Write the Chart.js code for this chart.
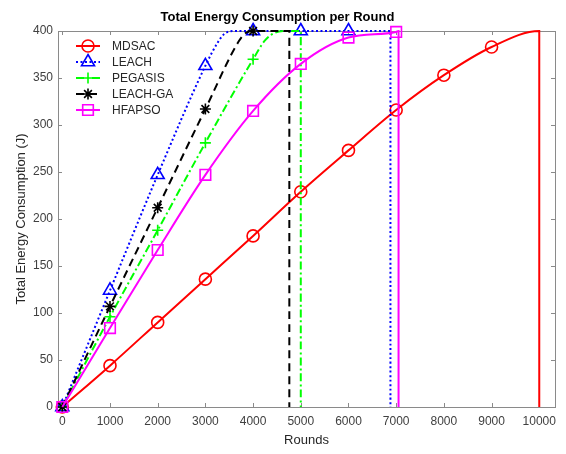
<!DOCTYPE html>
<html>
<head>
<meta charset="utf-8">
<title>Total Energy Consumption per Round</title>
<script src="https://cdn.jsdelivr.net/npm/chart.js@4.4.1/dist/chart.umd.min.js"></script>
<style>
  html, body { margin: 0; padding: 0; background: #fff; }
  #wrap { width: 566px; height: 454px; }
</style>
</head>
<body>
<div id="wrap"><canvas id="energy" width="566" height="454"></canvas></div>
<script>
// rounds / energy (J) per protocol
const mdsacX = [0, 1000, 2000, 3000, 4000, 5000, 6000, 7000, 8000, 9000, 10000, 10000];
const mdsacY = [0, 44, 90, 136, 182, 229, 273, 316, 353, 383, 400, 0];
const mdsacMarks = [0, 1000, 2000, 3000, 4000, 5000, 6000, 7000, 8000, 9000];

const leachX = [0, 1000, 2000, 3000, 3250, 3400, 3600, 4000, 5000, 6000, 6880, 6880];
const leachY = [0, 124, 247, 363, 387, 397, 400, 400, 400, 400, 400, 0];
const leachMarks = [0, 1000, 2000, 3000, 4000, 5000, 6000];

const pegasisX = [0, 1000, 2000, 3000, 4000, 4250, 4450, 4650, 5000, 5000];
const pegasisY = [0, 96, 188, 281, 370, 390, 398, 400, 400, 0];
const pegasisMarks = [0, 1000, 2000, 3000, 4000];

const leachGaX = [0, 1000, 2000, 3000, 3700, 3850, 4000, 4760, 4760];
const leachGaY = [0, 107, 212, 317, 389, 398, 400, 400, 0];
const leachGaMarks = [0, 1000, 2000, 3000, 4000];

const hfapsoX = [0, 1000, 2000, 3000, 4000, 5000, 6000, 7000, 7050, 7050];
const hfapsoY = [0, 84, 167, 247, 315, 365, 393, 399, 400, 0];
const hfapsoMarks = [0, 1000, 2000, 3000, 4000, 5000, 6000, 7000];

const xTicks = [0, 1000, 2000, 3000, 4000, 5000, 6000, 7000, 8000, 9000, 10000];
const yTicks = [0, 50, 100, 150, 200, 250, 300, 350, 400];

Chart.defaults.font.family = '"Liberation Sans", Arial, sans-serif';

const makeSeries = (label, xs, ys, marks, color, dash, style, radius, order) => ({
    label: label,
    data: xs.map((x, i) => ({ x: x, y: ys[i] })),
    borderColor: color,
    borderWidth: 2,
    borderDash: dash,
    borderCapStyle: 'butt',
    cubicInterpolationMode: 'monotone',
    pointStyle: style,
    pointRadius: ctx => (marks.includes(xs[ctx.dataIndex]) && ys[ctx.dataIndex] !== 0 || ctx.dataIndex === 0) ? radius : 0,
    pointBorderColor: color,
    pointBackgroundColor: 'rgba(0,0,0,0)',
    pointBorderWidth: 1.6,
    legendRadius: radius,
    showLine: true,
    clip: false,
    order: order
});

// box around the plot with inward tick marks on all four sides
const frame = {
    id: 'frame',
    beforeDatasetsDraw(chart) {
        const { ctx, chartArea: a, scales: { x, y } } = chart;
        ctx.save();
        ctx.strokeStyle = '#8a8a8a';
        ctx.lineWidth = 1;
        ctx.strokeRect(Math.round(a.left) + 0.5, Math.round(a.top) + 0.5,
            Math.round(a.right - a.left), Math.round(a.bottom - a.top));
        ctx.beginPath();
        x.ticks.forEach(t => {
            const px = Math.round(x.getPixelForValue(t.value)) + 0.5;
            ctx.moveTo(px, a.bottom); ctx.lineTo(px, a.bottom - 4);
            ctx.moveTo(px, a.top); ctx.lineTo(px, a.top + 4);
        });
        y.ticks.forEach(t => {
            const py = Math.round(y.getPixelForValue(t.value)) + 0.5;
            ctx.moveTo(a.left, py); ctx.lineTo(a.left + 4, py);
            ctx.moveTo(a.right, py); ctx.lineTo(a.right - 4, py);
        });
        ctx.stroke();
        ctx.restore();
    }
};

// line + marker legend in the upper left corner
const legendBox = {
    id: 'legendBox',
    afterDatasetsDraw(chart) {
        const { ctx, chartArea: a } = chart;
        ctx.save();
        chart.data.datasets.forEach((ds, i) => {
            const yy = a.top + 15 + i * 16;
            const x0 = a.left + 18;
            ctx.strokeStyle = ds.borderColor;
            ctx.lineWidth = ds.borderWidth;
            ctx.setLineDash(ds.borderDash || []);
            ctx.beginPath();
            ctx.moveTo(x0, yy);
            ctx.lineTo(x0 + 24, yy);
            ctx.stroke();
            ctx.setLineDash([]);
            ctx.fillStyle = 'rgba(0,0,0,0)';
            ctx.lineWidth = ds.pointBorderWidth;
            Chart.helpers.drawPoint(ctx, {
                pointStyle: ds.pointStyle,
                radius: ds.legendRadius,
                borderWidth: ds.pointBorderWidth,
                rotation: 0
            }, x0 + 12, yy);
            ctx.fillStyle = '#262626';
            ctx.font = '12px "Liberation Sans", Arial, sans-serif';
            ctx.textBaseline = 'middle';
            ctx.fillText(ds.label, x0 + 36, yy + 0.5);
        });
        ctx.restore();
    }
};

const datasets = [
    makeSeries('MDSAC', mdsacX, mdsacY, mdsacMarks, '#ff0000', [], 'circle', 6, 5),
    makeSeries('LEACH', leachX, leachY, leachMarks, '#0000ff', [2, 2.5], 'triangle', 7.5, 4),
    makeSeries('PEGASIS', pegasisX, pegasisY, pegasisMarks, '#00ff00', [8, 3, 2, 3], 'cross', 5.5, 3),
    makeSeries('LEACH-GA', leachGaX, leachGaY, leachGaMarks, '#000000', [8, 5], 'star', 5.5, 2),
    makeSeries('HFAPSO', hfapsoX, hfapsoY, hfapsoMarks, '#ff00ff', [], 'rect', 7.5, 1)
];

new Chart(document.getElementById('energy'), {
    type: 'scatter',
    data: { datasets: datasets },
    plugins: [frame, legendBox],
    options: {
        responsive: false,
        animation: false,
        devicePixelRatio: 1,
        events: [],
        layout: { padding: { left: 0, right: 11, top: 0, bottom: 0 } },
        plugins: {
            legend: { display: false },
            tooltip: { enabled: false },
            title: {
                display: true,
                text: 'Total Energy Consumption per Round',
                color: '#000',
                font: { size: 13, weight: 'bold' },
                padding: { top: 10, bottom: 5.4 }
            }
        },
        scales: {
            x: {
                type: 'linear',
                min: -90,
                max: 10330,
                afterBuildTicks: scale => { scale.ticks = xTicks.map(v => ({ value: v })); },
                afterFit: scale => { scale.height = 47; },
                grid: { display: false, drawTicks: false },
                border: { display: false },
                ticks: { color: '#404040', font: { size: 12 }, padding: 7, maxRotation: 0, autoSkip: false, callback: v => String(v) },
                title: { display: true, text: 'Rounds', color: '#262626', font: { size: 13 }, padding: { top: 0, bottom: 6 } }
            },
            y: {
                type: 'linear',
                min: 0,
                max: 400,
                afterBuildTicks: scale => { scale.ticks = yTicks.map(v => ({ value: v })); },
                afterFit: scale => { scale.width = 58; },
                grid: { display: false, drawTicks: false },
                border: { display: false },
                ticks: { color: '#404040', font: { size: 12 }, padding: 5, callback: v => String(v) },
                title: { display: true, text: 'Total Energy Consumption (J)', color: '#262626', font: { size: 13 }, padding: { top: 14, bottom: 0 } }
            }
        }
    }
});
</script>
</body>
</html>
